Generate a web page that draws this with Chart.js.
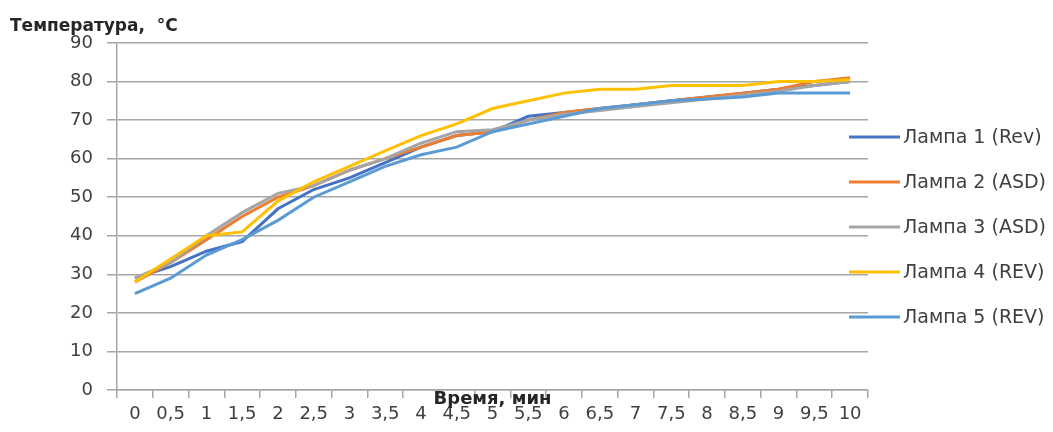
<!DOCTYPE html>
<html>
<head>
<meta charset="utf-8">
<script src="https://cdn.jsdelivr.net/npm/chart.js@4/dist/chart.umd.min.js"></script>
<style>
  html, body { margin: 0; padding: 0; background: #fff; }
  #wrap { width: 1053px; height: 432px; position: relative; }
</style>
</head>
<body>
<div id="wrap"><canvas id="c"></canvas></div>
<script>
const times = ["0", "0,5", "1", "1,5", "2", "2,5", "3", "3,5", "4", "4,5", "5",
    "5,5", "6", "6,5", "7", "7,5", "8", "8,5", "9", "9,5", "10"];
const names = ["Лампа 1 (Rev)", "Лампа 2 (ASD)", "Лампа 3 (ASD)", "Лампа 4 (REV)", "Лампа 5 (REV)"];
const colors = ["#4472c4", "#ed7d31", "#a5a5a5", "#ffc000", "#5b9bd5"];
const lamp1 = [29, 32, 36, 38.5, 47, 52, 55, 59, 63, 66, 67, 71, 72, 73, 74, 75, 76, 77, 78, 79, 80];
const lamp2 = [28, 33, 39, 45, 50, 53, 57, 60, 63, 66, 67, 70, 72, 73, 74, 75, 76, 77, 78, 80, 81];
const lamp3 = [29, 33, 40, 46, 51, 53, 57, 60, 64, 67, 67.5, 70, 71.5, 72.5, 73.5, 74.5, 75.5, 76.5, 77.5, 79, 80];
const lamp4 = [28, 34, 40, 41, 49, 54, 58, 62, 66, 69, 73, 75, 77, 78, 78, 79, 79, 79, 80, 80, 80.5];
const lamp5 = [25, 29, 35, 39, 44, 50, 54, 58, 61, 63, 67, 69, 71, 73, 74, 75, 75.5, 76, 77, 77, 77];
const yTitle = "Температура,  °C";
const xTitle = "Время, мин";

const series = [lamp1, lamp2, lamp3, lamp4, lamp5];
const txt = "#404040", grid = "#a6a6a6";
const font = '"DejaVu Sans", sans-serif';

// legend + axis titles drawn by hand, Excel style
const extras = {
    id: "extras",
    afterDraw(ch) {
        const c = ch.ctx, a = ch.chartArea;
        c.save();
        c.fillStyle = "#262626";
        c.font = "bold 17px " + font;
        c.textBaseline = "middle";
        c.textAlign = "left";
        c.fillText(yTitle, 10, 27);
        c.textAlign = "center";
        c.font = "bold 18px " + font;
        c.fillText(xTitle, (a.left + a.right) / 2, 399);

        c.fillStyle = txt;
        c.font = "19px " + font;
        c.textAlign = "left";
        names.forEach((n, i) => {
            const y = 137 + i * 45;
            c.strokeStyle = colors[i];
            c.lineWidth = 3;
            c.beginPath();
            c.moveTo(849, y);
            c.lineTo(900, y);
            c.stroke();
            c.fillText(n, 903, y + 1);
        });
        c.restore();
    }
};

new Chart(document.getElementById("c"), {
    type: "line",
    data: {
        labels: times,
        datasets: series.map((d, i) => ({
            label: names[i],
            data: d,
            borderColor: colors[i],
            backgroundColor: colors[i],
            borderWidth: 3,
            pointRadius: 0,
            tension: 0,
            order: 5 - i
        }))
    },
    options: {
        responsive: true,
        maintainAspectRatio: false,
        animation: false,
        layout: { padding: { top: 43, right: 185, bottom: 0, left: 0 } },
        plugins: { legend: { display: false }, tooltip: { enabled: false } },
        scales: {
            x: {
                offset: true,
                afterFit(s) { s.height = 42; },
                grid: { offset: true, drawOnChartArea: false, drawTicks: true, tickLength: 8, color: grid, lineWidth: 1.5 },
                border: { color: grid, width: 1.5 },
                ticks: { color: txt, font: { family: font, size: 18 }, padding: 6, maxRotation: 0, autoSkip: false }
            },
            y: {
                min: 0, max: 90,
                afterFit(s) { s.width = 117; },
                grid: { color: grid, lineWidth: 1.5, tickLength: 10 },
                border: { color: grid, width: 1.5 },
                ticks: { stepSize: 10, color: txt, font: { family: font, size: 18 }, padding: 14 }
            }
        }
    },
    plugins: [extras]
});
</script>
</body>
</html>
